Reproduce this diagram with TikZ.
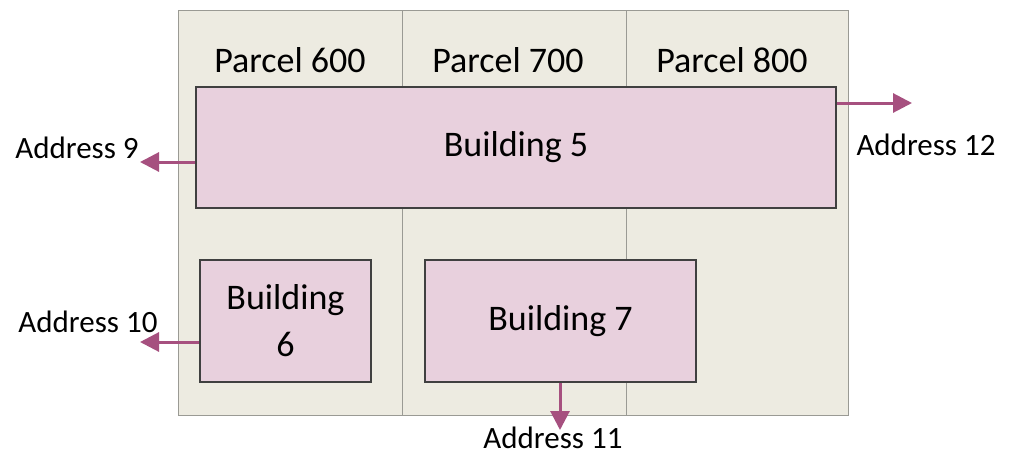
\documentclass[tikz,border=0pt]{standalone}
\usepackage{fontspec}
\setmainfont{Carlito}
\usetikzlibrary{arrows.meta}

\definecolor{parcelfill}{HTML}{EDEBE1}
\definecolor{parcelline}{HTML}{9A9A94}
\definecolor{bldgfill}{HTML}{E8D0DD}
\definecolor{bldgline}{HTML}{404040}
\definecolor{addrcol}{HTML}{A6507F}

\tikzset{
  parcel/.style={draw=parcelline, fill=parcelfill, line width=1.2pt,
    minimum height=405pt, inner sep=0pt, anchor=north west},
  bldg/.style={draw=bldgline, fill=bldgfill, line width=1.6pt,
    inner sep=0pt, align=center, font=\fontsize{36}{47}\selectfont},
  ptext/.style={font=\fontsize{36}{42}\selectfont},
  addr/.style={font=\fontsize{31}{36}\selectfont, inner sep=0pt},
  addrline/.style={draw=addrcol, line width=3pt, -{Triangle[length=19pt, width=19pt]}}
}

\begin{document}
\begin{tikzpicture}[x=1pt, y=-1pt]
  \useasboundingbox (0,0) rectangle (1014,456);

  % 1. The three parcels
  \node[parcel, minimum width=224pt] (p600) at (178,10) {};
  \node[parcel, minimum width=224pt] (p700) at (402,10) {};
  \node[parcel, minimum width=222pt] (p800) at (626,10) {};
  \node[ptext] (t600) at (290,60) {Parcel 600};
  \node[ptext] (t700) at (508,60) {Parcel 700};
  \node[ptext] (t800) at (732,60) {Parcel 800};

  % 2. The buildings
  \node[bldg, minimum width=640pt, minimum height=121pt] (b5) at (516,147.5) {Building 5};
  \node[bldg, minimum width=171pt, minimum height=122pt] (b6) at (285.5,321) {Building\\6};
  \node[bldg, minimum width=271pt, minimum height=122pt] (b7) at (560.5,321) {Building 7};

  % 3. Address points
  \coordinate (e9) at (140,162);
  \coordinate (e10) at (140,342);
  \coordinate (e11) at (560,430);
  \coordinate (e12) at (912,103);
  \node[addr] (a9) at (77,148) {Address 9};
  \node[addr] (a10) at (88,322) {Address 10};
  \node[addr] (a11) at (553,438) {Address 11};
  \node[addr] (a12) at (926,145) {Address 12};

  % 4. Connectors
  \draw[addrline] (b5.west |- e9) -- (e9);
  \draw[addrline] (b6.west |- e10) -- (e10);
  \draw[addrline] (b7.south -| e11) -- (e11);
  \draw[addrline] (b5.east |- e12) -- (e12);
\end{tikzpicture}
\end{document}
